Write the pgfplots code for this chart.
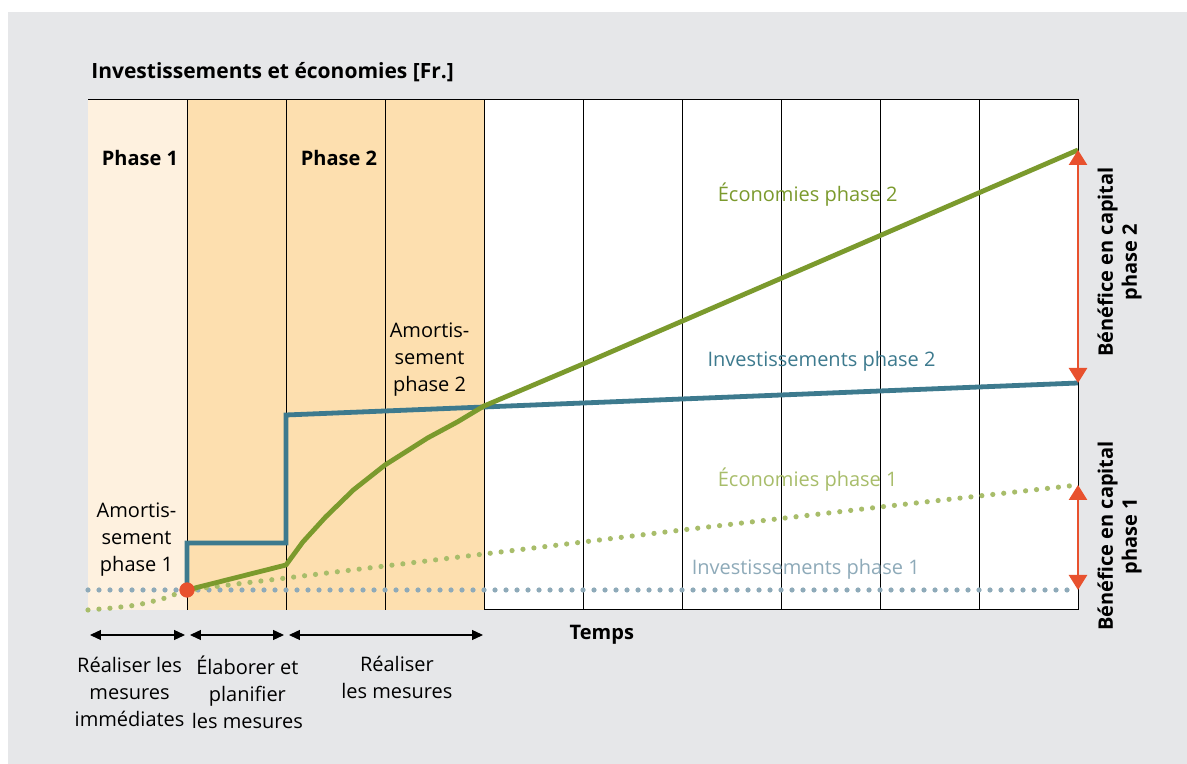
\documentclass[border=0pt]{standalone}
\usepackage{fontspec}
\setmainfont{Open Sans}
\usepackage{pgfplots}
\pgfplotsset{compat=1.18}
\usetikzlibrary{arrows.meta}

\definecolor{bggray}{HTML}{E6E7E9}
\definecolor{peachlt}{HTML}{FEF1DF}
\definecolor{peach}{HTML}{FDDFAF}
\definecolor{ecogreen}{HTML}{7B9A2D}
\definecolor{invblue}{HTML}{3D7A8E}
\definecolor{ecogreenlt}{HTML}{A8BD6A}
\definecolor{invbluelt}{HTML}{8EAAB9}
\definecolor{markred}{HTML}{E8512E}

\begin{document}
\begin{tikzpicture}
  % page and grey panel (1 px of the reference = 0.5pt)
  \fill[white] (0,0) rectangle (593.5pt,382pt);
  \fill[bggray] (4pt,0) rectangle (593.5pt,376pt);
  \path[use as bounding box] (0,0) rectangle (593.5pt,382pt);

  \begin{axis}[
    at={(44pt,77pt)}, anchor=south west,
    scale only axis,
    width=495pt, height=255pt,
    xmin=0, xmax=10, ymin=0, ymax=510,
    xtick=\empty, ytick=\empty,
    axis line style={black,line width=0.5pt},
    axis background/.style={fill=white},
    clip=false,
    font=\fontsize{10}{13.5}\selectfont,
  ]
    % phase columns
    \fill[peachlt] (axis cs:0,0) rectangle (axis cs:1,510);
    \fill[peach] (axis cs:1,0) rectangle (axis cs:4,510);
    \pgfplotsinvokeforeach{1,...,9}{
      \draw[black,line width=0.5pt] (axis cs:#1,0) -- (axis cs:#1,510);
    }

    % Investissements phase 1
    \addplot[invbluelt,line width=2.6pt,line cap=round,
      dash pattern=on 0pt off 5.5pt]
      coordinates {(0,20) (10,20)};
    % Economies phase 1
    \addplot[ecogreenlt,line width=2.6pt,line cap=round,
      dash pattern=on 0pt off 5.5pt]
      coordinates {(0,0) (0.25,2) (0.5,5) (0.75,11) (1,20) (2,32) (3,44)
                   (4,56) (6,80) (8,103) (10,125)};
    % Investissements phase 2
    \addplot[invblue,line width=2.4pt,line join=miter]
      coordinates {(1,20) (1,67) (2,67) (2,195) (10,227)};
    % Economies phase 2
    \addplot[ecogreen,line width=2.4pt,line join=round]
      coordinates {(1,20) (2,45) (2.17,68) (2.4,93) (2.68,120) (3,145)
                   (3.43,172) (3.73,188) (4,204) (5,246) (10,460)};
    % amortisation point phase 1
    \addplot[only marks,mark=*,mark size=3.6pt,color=markred]
      coordinates {(1,20)};

    % capital gain arrows
    \draw[markred,line width=1.3pt,
      {Triangle[width=9pt,length=7.5pt]}-{Triangle[width=9pt,length=7.5pt]}]
      (axis cs:10,460) -- (axis cs:10,227);
    \draw[markred,line width=1.3pt,
      {Triangle[width=9pt,length=7.5pt]}-{Triangle[width=9pt,length=7.5pt]}]
      (axis cs:10,125) -- (axis cs:10,20);

    % time spans below the axis
    \draw[black,line width=0.6pt,
      {Triangle[width=5pt,length=5.5pt]}-{Triangle[width=5pt,length=5.5pt]}]
      (axis cs:0.02,-25) -- (axis cs:0.98,-25);
    \draw[black,line width=0.6pt,
      {Triangle[width=5pt,length=5.5pt]}-{Triangle[width=5pt,length=5.5pt]}]
      (axis cs:1.03,-25) -- (axis cs:1.98,-25);
    \draw[black,line width=0.6pt,
      {Triangle[width=5pt,length=5.5pt]}-{Triangle[width=5pt,length=5.5pt]}]
      (axis cs:2.03,-25) -- (axis cs:3.99,-25);

    % texts
    \node[anchor=west,inner sep=0pt,font=\bfseries\fontsize{10.5}{13}\selectfont]
      at (axis cs:0.03,538) {Investissements et économies [Fr.]};
    \node[font=\bfseries] at (axis cs:0.525,452) {Phase 1};
    \node[font=\bfseries] at (axis cs:2.535,452) {Phase 2};
    \node[align=center] at (axis cs:0.49,70) {Amortis-\\sement\\phase 1};
    \node[align=center] at (axis cs:3.45,250) {Amortis-\\sement\\phase 2};
    \node[text=ecogreen] at (axis cs:7.27,415) {Économies phase 2};
    \node[text=invblue] at (axis cs:7.41,249) {Investissements phase 2};
    \node[text=ecogreenlt] at (axis cs:7.27,130) {Économies phase 1};
    \node[text=invbluelt] at (axis cs:7.25,41) {Investissements phase 1};
    \node[font=\bfseries] at (axis cs:5.19,-25) {Temps};
    \node[align=center] at (axis cs:0.42,-82)
      {Réaliser les\\mesures\\immédiates};
    \node[align=center] at (axis cs:1.61,-82)
      {Élaborer et\\planifier\\les mesures};
    \node[align=center] at (axis cs:3.12,-67) {Réaliser\\les mesures};
    \node[rotate=90,align=center,font=\bfseries] at (axis cs:10.42,348)
      {Bénéfice en capital\\phase 2};
    \node[rotate=90,align=center,font=\bfseries] at (axis cs:10.42,74)
      {Bénéfice en capital\\phase 1};
  \end{axis}
\end{tikzpicture}
\end{document}
